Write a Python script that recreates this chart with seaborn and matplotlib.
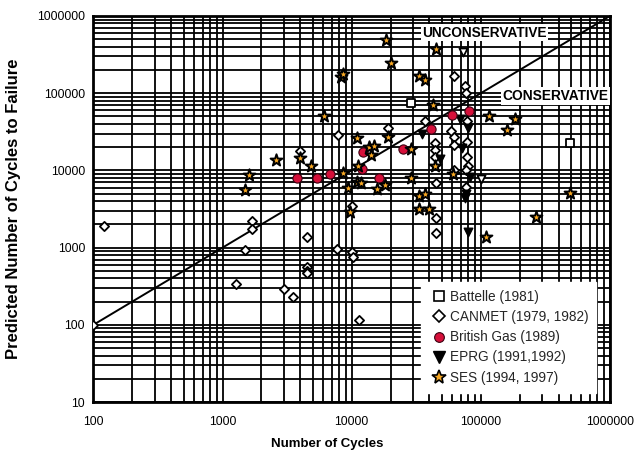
import numpy as np
import pandas as pd
import matplotlib
matplotlib.use("Agg")
import matplotlib.pyplot as plt
import seaborn as sns
from matplotlib.lines import Line2D
from matplotlib.ticker import LogLocator, NullFormatter

# ---------------- data ----------------
battelle_x = [29000, 490000]
battelle_y = [74000, 22600]

canmet_x = [100, 120, 1270, 1500, 1700, 1700, 3000, 3500, 4500, 4500, 4500, 4500,
            7700, 10000, 10300, 11300, 10000, 4000, 7900,
            19000, 37000, 44000, 44000, 44000, 45000, 45000, 45000, 59000, 62000,
            62000, 62000, 62000, 76000, 77000, 78000, 78000, 78000, 79000, 77000, 77000]
canmet_y = [100, 1900, 335, 930, 2200, 1750, 295, 228, 1370, 560, 500, 470,
            970, 880, 750, 115, 3500, 18000, 29000,
            35000, 43000, 22500, 18400, 15000, 6900, 2400, 1530, 32000, 26800,
            21300, 10100, 167000, 125000, 100000, 43000, 23500, 15000, 11300, 6100, 10100]

open_tri_x = [73000, 101000]
open_tri_y = [345000, 7700]

bg_x = [3800, 5400, 6800, 12300, 12000, 16300, 25000, 41000, 60000, 81000]
bg_y = [7900, 7900, 9000, 17500, 10300, 7900, 19000, 34000, 52000, 58000]

eprg_x = [35000, 48000, 69000, 79000, 72000, 82000, 77000, 75000, 79000]
eprg_y = [30000, 14000, 47000, 35000, 19300, 8300, 5000, 4400, 1600]

ses_x = [1500, 1600, 2600, 4000, 4800, 6100, 8300, 8600, 8600, 9400, 9700, 11000,
         11200, 11000, 11800, 13700, 15000, 14000, 15700, 18200, 18500, 20000, 19000,
         29000, 29000, 33000, 37000, 33000, 37000, 33000, 40000, 43000, 45000, 44000,
         61000, 115000, 185000, 160000, 270000, 110000, 490000]
ses_y = [5600, 8700, 13500, 14500, 11500, 50000, 160000, 177000, 9300, 5900, 2850, 26000,
         11400, 7000, 6900, 20000, 20500, 15700, 5800, 6400, 490000, 244000, 27000,
         19000, 7900, 167000, 148000, 4600, 5000, 3200, 3200, 70000, 370000, 11500,
         9000, 50000, 47000, 33000, 2500, 1380, 5100]

xticks = [100, 1000, 10000, 100000, 1000000]
yticks = [10, 100, 1000, 10000, 100000, 1000000]
diag = [100, 1000000]

labels = ["Battelle (1981)", "CANMET (1979, 1982)", "British Gas (1989)",
          "EPRG (1991,1992)", "SES (1994, 1997)"]

# ---------------- style ----------------
sns.set_theme(style="white")
plt.rcParams["font.family"] = ["Liberation Sans", "DejaVu Sans"]

fig = plt.figure(figsize=(6.4, 4.54), dpi=100)
ax = fig.add_axes([0.146, 0.1145, 0.807, 0.8503])

ax.set_xscale("log")
ax.set_yscale("log")
ax.set_xlim(100, 1000000)
ax.set_ylim(10, 1000000)

ax.xaxis.set_minor_locator(LogLocator(base=10, subs=np.arange(2, 10)))
ax.yaxis.set_minor_locator(LogLocator(base=10, subs=np.arange(2, 10)))
ax.xaxis.set_minor_formatter(NullFormatter())
ax.yaxis.set_minor_formatter(NullFormatter())
ax.set_xticks(xticks, labels=[str(v) for v in xticks])
ax.set_yticks(yticks, labels=[str(v) for v in yticks])
ax.grid(True, which="both", color="black", lw=1.3, zorder=0)
ax.set_axisbelow(True)
ax.tick_params(axis="both", which="both", length=0, labelsize=8.8, colors="black")
ax.tick_params(axis="x", pad=10)
ax.tick_params(axis="y", pad=6)
for sp in ax.spines.values():
    sp.set_color("black")
    sp.set_linewidth(2)

sns.lineplot(x=diag, y=diag, ax=ax, color="black", lw=1.4, zorder=3)

def pts(x, y):
    return pd.DataFrame({"x": x, "y": y})

sns.scatterplot(data=pts(canmet_x, canmet_y), x="x", y="y", ax=ax, marker="D", s=22,
                color="white", edgecolor="black", linewidth=1.3, zorder=4, legend=False)
sns.scatterplot(data=pts(open_tri_x, open_tri_y), x="x", y="y", ax=ax, marker="v", s=34,
                color="white", edgecolor="black", linewidth=1.3, zorder=4, legend=False)
sns.scatterplot(data=pts(battelle_x, battelle_y), x="x", y="y", ax=ax, marker="s", s=32,
                color="white", edgecolor="black", linewidth=1.3, zorder=4, legend=False)
sns.scatterplot(data=pts(eprg_x, eprg_y), x="x", y="y", ax=ax, marker="v", s=38,
                color="black", edgecolor="black", linewidth=1, zorder=5, legend=False)
sns.scatterplot(data=pts(bg_x, bg_y), x="x", y="y", ax=ax, marker="o", s=44,
                color="#D6103A", edgecolor="#3a0010", linewidth=0.8, zorder=5, legend=False)
sns.scatterplot(data=pts(ses_x, ses_y), x="x", y="y", ax=ax, marker="*", s=80,
                color="#F5A623", edgecolor="black", linewidth=1.4, zorder=6, legend=False)

ax.set_xlabel("Number of Cycles", fontsize=9.5, fontweight="bold", color="black")
ax.set_ylabel("Predicted Number of Cycles to Failure", fontsize=12, fontweight="bold",
              color="black")
ax.xaxis.set_label_coords(0.452, -0.094)
ax.yaxis.set_label_coords(-0.14, 0.5)

ax.text(0.757, 0.957, "UNCONSERVATIVE", transform=ax.transAxes, ha="center", va="center",
        fontsize=9.8, fontweight="bold", color="black", zorder=7,
        bbox=dict(facecolor="white", edgecolor="none", pad=1.2))
ax.text(0.997, 0.793, "CONSERVATIVE", transform=ax.transAxes, ha="right", va="center",
        fontsize=9.9, fontweight="bold", color="black", zorder=7,
        bbox=dict(facecolor="white", edgecolor="none", pad=1.2))

handles = [
    Line2D([], [], ls="none", marker="s", ms=7, mfc="white", mec="black", mew=1.2),
    Line2D([], [], ls="none", marker="D", ms=6, mfc="white", mec="black", mew=1.2),
    Line2D([], [], ls="none", marker="o", ms=7, mfc="#D6103A", mec="#3a0010", mew=0.8),
    Line2D([], [], ls="none", marker="v", ms=8, mfc="black", mec="black"),
    Line2D([], [], ls="none", marker="*", ms=10, mfc="#F5A623", mec="black", mew=1.2),
]
leg = ax.legend(handles, labels, loc="lower right", bbox_to_anchor=(0.974, 0.024),
                borderaxespad=0, frameon=True, fancybox=False, framealpha=1,
                edgecolor="white", facecolor="white", fontsize=9.8, labelspacing=0.45,
                handletextpad=0.1, handlelength=1.4, borderpad=0.6)
leg.set_zorder(10)

fig.savefig("out.png", dpi=100)
